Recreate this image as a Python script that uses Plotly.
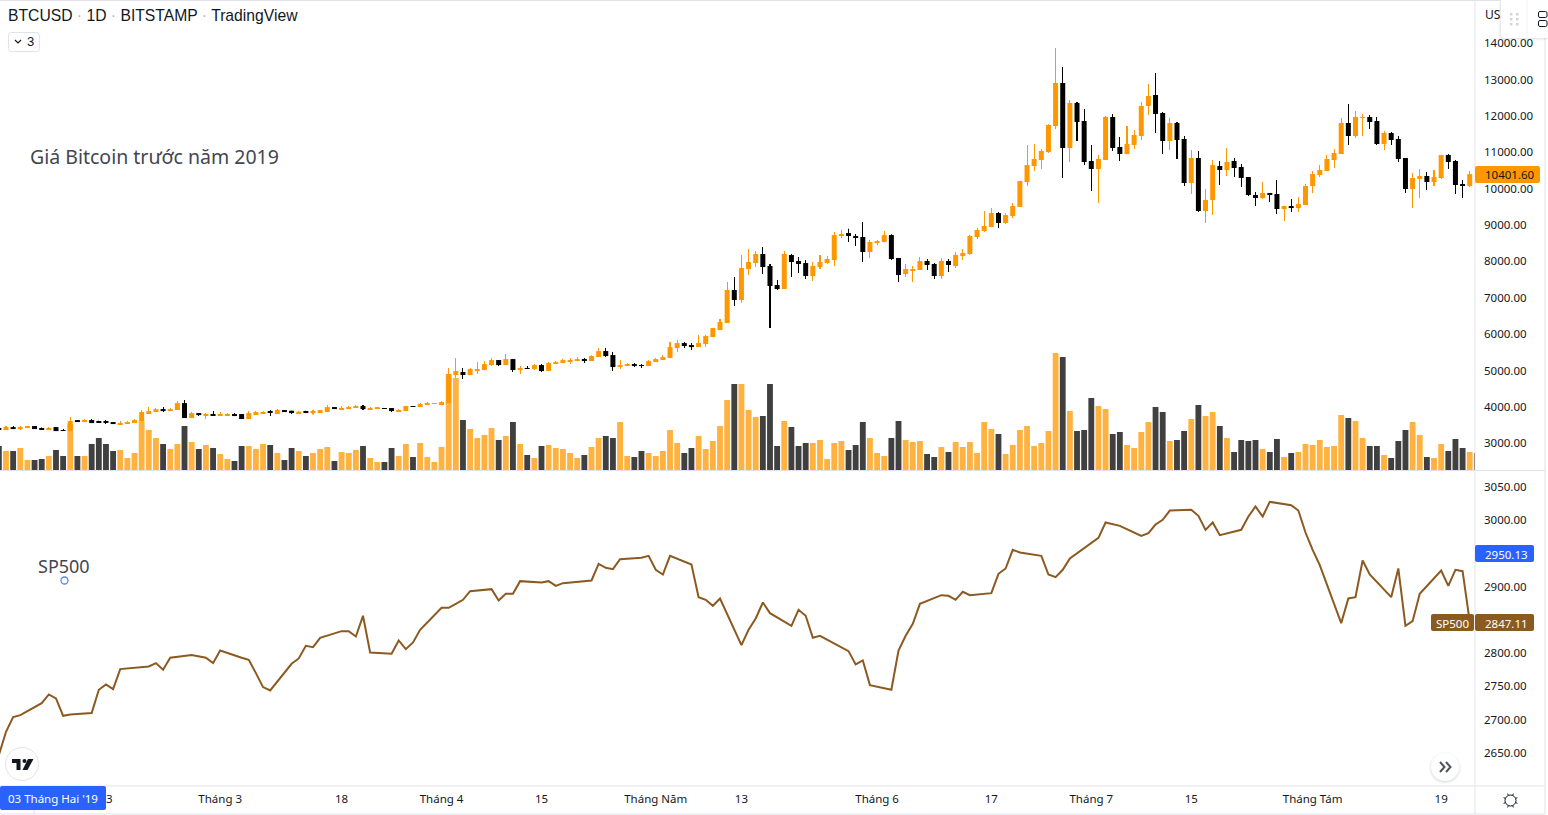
import math
import pandas as pd
import plotly.graph_objects as go

W, H = 1548, 815
PLOT_R = 1475
PANE_SPLIT = 470
PANE_BOTTOM = 786

UP = "#ff9800"
DOWN = "#000000"
UP_VOL = "rgba(255,152,0,0.75)"
DOWN_VOL = "rgba(0,0,0,0.75)"
SP_COLOR = "#8b5a20"
BORDER = "#e0e3eb"
TEXT = "#131722"
FONT = "Noto Sans"
DAY_MS = 86400000

# giá BTCUSD theo ngày
opens = [
    3419, 3364, 3446, 3391, 3419, 3474, 3410, 3391, 3446, 3364,
    3336, 3639, 3584, 3639, 3593, 3593, 3584, 3529, 3529, 3556,
    3611, 3832, 3859, 3941, 3886, 3914, 4106, 3694, 3831, 3776,
    3804, 3776, 3776, 3804, 3804, 3666, 3776, 3831, 3868, 3804,
    3914, 3896, 3831, 3868, 3841, 3831, 3859, 3996, 3941, 3941,
    3969, 4024, 3941, 3941, 3969, 3969, 3886, 3886, 4024, 3996,
    4051, 4088, 4051, 4106, 4877, 4959, 4877, 5014, 5014, 5151,
    5289, 5151, 5316, 5014, 5069, 5041, 5151, 4986, 5179, 5206,
    5261, 5261, 5316, 5261, 5371, 5536, 5426, 5096, 5124, 5179,
    5151, 5124, 5234, 5289, 5344, 5619, 5756, 5701, 5646, 5729,
    5921, 6114, 6306, 7214, 6939, 7791, 7956, 8204, 7874, 7351,
    7241, 8176, 8011, 7956, 7599, 7846, 7956, 8039, 8699, 8781,
    8699, 8672, 8259, 8506, 8534, 8726, 8094, 7654, 7764, 7764,
    8011, 7929, 7599, 8012, 7874, 8149, 8204, 8671, 8836, 8946,
    9331, 9056, 9249, 9496, 10184, 10624, 10789, 11009, 11724, 12906,
    11119, 12356, 11861, 10761, 10541, 10789, 11971, 11146, 10954, 11201,
    11449, 12274, 12576, 12081, 11311, 11806, 11366, 10156, 10844, 9386,
    9689, 10624, 10514, 10761, 10596, 10321, 9826, 9744, 9881, 9854,
    9441, 9524, 9469, 9551, 10074, 10376, 10486, 10789, 10954, 11806,
    11449, 11944, 11971, 11861, 11229, 11531, 11366, 10844, 9991, 10266,
    10349, 10184, 10294, 10926, 10761, 10129, 10074,
]
highs = [
    3419, 3474, 3474, 3474, 3474, 3474, 3437, 3446, 3446, 3391,
    3721, 3639, 3666, 3666, 3620, 3639, 3584, 3611, 3611, 3666,
    3914, 3996, 3969, 3996, 3969, 4161, 4189, 3859, 3831, 3831,
    3886, 3859, 3831, 3831, 3804, 3886, 3886, 3886, 3914, 3941,
    3914, 3896, 3896, 3896, 3914, 3914, 4051, 3996, 4024, 4024,
    4051, 4051, 3996, 3996, 3969, 3969, 3941, 4024, 4024, 4106,
    4134, 4106, 4161, 5069, 5344, 5069, 5069, 5234, 5261, 5344,
    5289, 5454, 5316, 5124, 5124, 5179, 5179, 5234, 5261, 5316,
    5344, 5371, 5344, 5426, 5619, 5619, 5509, 5289, 5206, 5206,
    5179, 5289, 5344, 5426, 5784, 5839, 5784, 5756, 5976, 5976,
    6169, 6416, 7434, 7571, 8176, 8341, 8286, 8396, 7929, 7489,
    8286, 8204, 8121, 8039, 7984, 8176, 8149, 8809, 8864, 8900,
    8754, 9084, 8589, 8589, 8836, 8745, 8094, 7929, 7874, 8121,
    8066, 7956, 8094, 8067, 8259, 8342, 8726, 8919, 9386, 9469,
    9359, 9331, 9606, 10211, 11201, 11229, 11091, 11779, 13869, 13346,
    12439, 12384, 12191, 11201, 10926, 11999, 12054, 11421, 11724, 11614,
    12384, 12879, 13181, 12109, 11944, 11834, 11449, 11064, 11036, 9991,
    10789, 10761, 11119, 10844, 10679, 10321, 9909, 10184, 9881, 10239,
    9524, 9716, 9771, 10129, 10486, 10651, 10926, 11091, 11944, 12329,
    12136, 12054, 12026, 11971, 11586, 11559, 11449, 10844, 10431, 10541,
    10459, 10514, 10926, 10954, 10789, 10239, 10486,
]
lows = [
    3364, 3364, 3391, 3364, 3419, 3391, 3391, 3391, 3336, 3336,
    3336, 3584, 3584, 3556, 3556, 3529, 3529, 3529, 3529, 3556,
    3611, 3832, 3859, 3859, 3886, 3914, 3694, 3694, 3749, 3666,
    3749, 3776, 3749, 3749, 3666, 3666, 3776, 3831, 3749, 3804,
    3859, 3804, 3804, 3831, 3795, 3831, 3859, 3941, 3941, 3941,
    3969, 3914, 3941, 3941, 3950, 3859, 3886, 3886, 4005, 3996,
    4051, 4088, 4051, 4106, 4794, 4766, 4877, 4904, 5014, 5124,
    5124, 5151, 4959, 4904, 5041, 5014, 4959, 4986, 5179, 5206,
    5179, 5261, 5206, 5261, 5371, 5371, 4986, 5041, 5124, 5096,
    5069, 5124, 5234, 5289, 5344, 5509, 5619, 5564, 5646, 5646,
    5921, 6114, 6306, 6774, 6856, 7626, 7846, 7654, 6169, 7214,
    7241, 7571, 7681, 7516, 7461, 7791, 7929, 7874, 8644, 8534,
    8424, 7984, 8094, 8451, 8534, 8039, 7434, 7571, 7434, 7764,
    7764, 7516, 7517, 7709, 7819, 8039, 8176, 8616, 8809, 8946,
    8919, 9029, 9194, 9496, 10074, 10486, 10541, 10981, 11641, 10294,
    10734, 11311, 10651, 9936, 9606, 10789, 11036, 10761, 10954, 11091,
    11339, 12026, 11531, 10954, 11064, 10816, 10074, 9854, 9359, 9056,
    9276, 10101, 10349, 10321, 10046, 9799, 9524, 9716, 9634, 9304,
    9111, 9359, 9359, 9551, 9881, 10321, 10486, 10569, 10954, 11201,
    11394, 11449, 11641, 11201, 11064, 11201, 10734, 9881, 9469, 9744,
    9964, 10074, 10266, 10541, 9854, 9744, 10046,
]
closes = [
    3364, 3446, 3391, 3446, 3474, 3391, 3391, 3419, 3336, 3345,
    3611, 3584, 3639, 3556, 3575, 3575, 3529, 3556, 3584, 3639,
    3859, 3886, 3941, 3886, 3941, 4106, 3694, 3831, 3776, 3804,
    3776, 3804, 3804, 3749, 3666, 3831, 3859, 3859, 3850, 3914,
    3859, 3831, 3868, 3850, 3868, 3914, 3996, 3941, 3969, 3996,
    4024, 3941, 3969, 3996, 3950, 3886, 3914, 4024, 4005, 4079,
    4106, 4106, 4134, 4904, 4986, 4877, 5041, 5041, 5179, 5289,
    5151, 5316, 5014, 5069, 5051, 5151, 4986, 5206, 5234, 5289,
    5289, 5316, 5280, 5399, 5536, 5399, 5096, 5151, 5179, 5124,
    5133, 5261, 5316, 5371, 5646, 5756, 5674, 5646, 5756, 5949,
    6169, 6334, 7214, 6939, 7819, 7984, 8204, 7846, 7324, 7241,
    8204, 7984, 7929, 7599, 7874, 7984, 8066, 8726, 8754, 8699,
    8644, 8259, 8534, 8561, 8726, 8066, 7626, 7791, 7791, 8011,
    7901, 7599, 8012, 7902, 8177, 8232, 8699, 8864, 8974, 9331,
    9056, 9276, 9524, 10211, 10651, 10816, 11036, 11751, 12906, 11119,
    12356, 11834, 10734, 10541, 10816, 11971, 11119, 10954, 11229, 11476,
    12274, 12549, 12054, 11311, 11806, 11339, 10156, 10844, 9386, 9689,
    10651, 10514, 10734, 10569, 10294, 9826, 9744, 9881, 9826, 9441,
    9524, 9469, 9579, 10074, 10404, 10514, 10816, 10981, 11806, 11449,
    11971, 11971, 11834, 11229, 11531, 11339, 10816, 9991, 10294, 10349,
    10184, 10321, 10926, 10734, 10101, 10074, 10401.6,
]
# khối lượng, đơn vị trăm BTC (phiên cuối chỉ còn thấy mép cột)
volumes = [
    96, 76, 76, 88, 40, 40, 44, 56, 80, 56,
    184, 56, 56, 104, 128, 104, 76, 80, 48, 68,
    196, 160, 128, 104, 84, 104, 176, 112, 84, 100,
    88, 64, 44, 36, 96, 96, 84, 104, 100, 68,
    40, 88, 76, 56, 68, 84, 92, 36, 72, 68,
    80, 96, 48, 32, 32, 88, 56, 104, 52, 108,
    52, 32, 92, 384, 368, 200, 164, 128, 140, 168,
    120, 136, 192, 104, 60, 48, 96, 100, 88, 84,
    68, 48, 60, 92, 128, 136, 128, 192, 56, 52,
    76, 68, 56, 76, 160, 108, 68, 88, 136, 84,
    116, 176, 280, 344, 344, 240, 212, 216, 344, 96,
    196, 172, 96, 108, 108, 120, 44, 108, 116, 80,
    100, 192, 128, 68, 56, 128, 196, 120, 112, 116,
    64, 52, 92, 72, 112, 92, 112, 68, 192, 164,
    144, 64, 100, 160, 176, 96, 108, 156, 468, 452,
    236, 156, 160, 288, 256, 244, 144, 152, 100, 88,
    152, 192, 252, 232, 116, 120, 156, 204, 260, 216,
    232, 176, 128, 72, 120, 116, 120, 84, 72, 124,
    52, 68, 72, 104, 100, 120, 92, 96, 220, 208,
    196, 128, 96, 96, 60, 48, 116, 160, 192, 140,
    52, 48, 104, 76, 124, 88, 72, 68,
]
# SP500, mỗi hàng là một tuần giao dịch
sp500 = [
    2647, 2682, 2704, 2707,
    2725, 2738, 2732, 2706, 2708,
    2710, 2745, 2753, 2746, 2776,
    2780, 2785, 2775, 2793,
    2797, 2795, 2793, 2785, 2804,
    2793, 2790, 2770, 2749, 2744,
    2784, 2792, 2811, 2809, 2823,
    2833, 2833, 2825, 2856, 2801,
    2799, 2819, 2806, 2816, 2835,
    2868, 2868, 2874, 2880, 2893,
    2896, 2879, 2889, 2889, 2908,
    2906, 2908, 2901, 2905,
    2909, 2934, 2928, 2926, 2941,
    2943, 2946, 2925, 2918, 2946,
    2933, 2884, 2880, 2871, 2882,
    2812, 2835, 2852, 2876, 2860,
    2841, 2865, 2856, 2823, 2826,
    2803, 2783, 2789, 2752,
    2745, 2804, 2826, 2844, 2874,
    2887, 2886, 2880, 2892, 2887,
    2890, 2919, 2927, 2955, 2951,
    2946, 2918, 2914, 2925, 2942,
    2966, 2973, 2996, 2991,
    2976, 2980, 2993, 3000, 3014,
    3015, 3006, 2985, 2996, 2977,
    2985, 3005, 3020, 3005, 3027,
    3022, 3014, 2981, 2955, 2932,
    2845, 2882, 2884, 2939, 2918,
    2884, 2927, 2841, 2848, 2889,
    2924, 2901, 2925, 2923, 2847.11,
]
us_holidays = ["2019-02-18", "2019-04-19", "2019-05-27", "2019-07-04"]

price_ticks = [3000, 4000, 5000, 6000, 7000, 8000, 9000, 10000, 11000, 12000, 13000, 14000]
sp_ticks = [2650, 2700, 2750, 2800, 2900, 3000, 3050]
date_ticks = ["2019-02-13", "2019-03-01", "2019-03-18", "2019-04-01", "2019-04-15", "2019-05-01",
              "2019-05-13", "2019-06-01", "2019-06-17", "2019-07-01", "2019-07-15", "2019-08-01", "2019-08-19"]
date_labels = ["13", "Tháng 3", "18", "Tháng 4", "15", "Tháng Năm", "13", "Tháng 6", "17", "Tháng 7", "15", "Tháng Tám", "19"]

days = pd.date_range("2019-01-29", periods=len(volumes), freq="D")
candle_days = days[:len(opens)]
sp_days = pd.bdate_range("2019-01-29", "2019-08-23").drop(pd.to_datetime(us_holidays))
vol_colors = [UP_VOL if c >= o else DOWN_VOL for o, c in zip(opens, closes)] + [DOWN_VOL]
candle_colors = [UP if c >= o else DOWN for o, c in zip(opens, closes)]


# toạ độ pixel của màn hình -> toạ độ paper
def px(x):
    return x / W


def py(y):
    return 1 - y / H


shapes = []
annotations = []


def rect(x0, y0, x1, y1, fill, line=None, r=0, lw=1):
    if r:
        path = (f"M {px(x0 + r)} {py(y0)} L {px(x1 - r)} {py(y0)} Q {px(x1)} {py(y0)} {px(x1)} {py(y0 + r)} "
                f"L {px(x1)} {py(y1 - r)} Q {px(x1)} {py(y1)} {px(x1 - r)} {py(y1)} L {px(x0 + r)} {py(y1)} "
                f"Q {px(x0)} {py(y1)} {px(x0)} {py(y1 - r)} L {px(x0)} {py(y0 + r)} Q {px(x0)} {py(y0)} {px(x0 + r)} {py(y0)} Z")
        shapes.append(dict(type="path", path=path, xref="paper", yref="paper", fillcolor=fill,
                           line=dict(color=line or fill, width=lw if line else 0), layer="above"))
    else:
        shapes.append(dict(type="rect", x0=px(x0), x1=px(x1), y0=py(y0), y1=py(y1), xref="paper", yref="paper",
                           fillcolor=fill, line=dict(color=line or fill, width=lw if line else 0), layer="above"))


def hline(x0, x1, y, color=BORDER, lw=1):
    shapes.append(dict(type="line", x0=px(x0), x1=px(x1), y0=py(y), y1=py(y), xref="paper", yref="paper",
                       line=dict(color=color, width=lw), layer="above"))


def vline(x, y0, y1, color=BORDER, lw=1):
    shapes.append(dict(type="line", x0=px(x), x1=px(x), y0=py(y0), y1=py(y1), xref="paper", yref="paper",
                       line=dict(color=color, width=lw), layer="above"))


def polyline(points, color, lw=1.5, fill=None):
    path = "M " + " L ".join(f"{px(x)} {py(y)}" for x, y in points)
    if fill:
        path += " Z"
    shapes.append(dict(type="path", path=path, xref="paper", yref="paper", fillcolor=fill or "rgba(0,0,0,0)",
                       line=dict(color=color, width=lw), layer="above"))


def circle(cx, cy, r, fill, line=None, lw=1):
    shapes.append(dict(type="circle", x0=px(cx - r), x1=px(cx + r), y0=py(cy - r), y1=py(cy + r),
                       xref="paper", yref="paper", fillcolor=fill,
                       line=dict(color=line or fill, width=lw if line else 0), layer="above"))


def label(x, y, text, size=12, color=TEXT, anchor="left", family=FONT):
    annotations.append(dict(x=px(x), y=py(y), xref="paper", yref="paper", text=text, showarrow=False,
                            xanchor=anchor, yanchor="middle", font=dict(size=size, color=color, family=family),
                            borderpad=0, borderwidth=0))


def tag(x0, x1, y0, y1, fill, text, color, left=None):
    rect(x0, y0, x1, y1, fill, r=2)
    if left is None:
        label((x0 + x1) / 2, (y0 + y1) / 2 + 0.5, text, size=11.5, color=color, anchor="center")
    else:
        label(left, (y0 + y1) / 2 + 0.5, text, size=11.5, color=color)


fig = go.Figure()

# volume nằm dưới nến
fig.add_trace(go.Bar(x=days, y=volumes, xaxis="x", yaxis="y", marker=dict(color=vol_colors, line=dict(width=0)),
                     width=DAY_MS * 0.82))
# nến vẽ bằng cột để cạnh sắc như trong hình: bấc rất mảnh, thân rộng
fig.add_trace(go.Bar(x=candle_days, y=[h - l for h, l in zip(highs, lows)], base=lows, xaxis="x", yaxis="y3",
                     marker=dict(color=candle_colors, line=dict(width=0)), width=DAY_MS * 0.01))
fig.add_trace(go.Bar(x=candle_days, y=[abs(c - o) for o, c in zip(opens, closes)],
                     base=[min(o, c) for o, c in zip(opens, closes)], xaxis="x", yaxis="y3",
                     marker=dict(color=candle_colors, line=dict(width=0)), width=DAY_MS * 0.7))
fig.add_trace(go.Scatter(x=sp_days, y=sp500, xaxis="x2", yaxis="y2", mode="lines",
                         line=dict(color=SP_COLOR, width=2)))

# khung
hline(0, 1545, 0.5)
hline(0, 1545, PANE_SPLIT + 0.5)
hline(0, 1545, PANE_BOTTOM)
hline(0, 1545, 814)
vline(PLOT_R, 0, 814)
vline(1545, 0, 814)
vline(34, 810, 814)

# nhãn giá
tag(1475, 1540, 166, 183, UP, "10401.60", TEXT, left=1485)
tag(1475, 1534, 545, 562, "#2962ff", "2950.13", "#ffffff", left=1485)
tag(1431, 1474, 614, 631, SP_COLOR, "SP500", "#ffffff")
tag(1475, 1534, 614, 631, SP_COLOR, "2847.11", "#ffffff", left=1485)
tag(0, 106, 786, 810, "#2962ff", "03 Tháng Hai '19", "#ffffff")

# tiêu đề
dot = '<span style="color:#b2b5be"> · </span>'
label(8, 16, f"BTCUSD{dot}1D{dot}BITSTAMP{dot}TradingView", size=15.7, family="Liberation Sans")
rect(8.5, 32.5, 39.5, 51.5, "#ffffff", line=BORDER, r=3)
polyline([(15, 40), (18, 43), (21, 40)], TEXT, lw=1.2)
label(31, 41.5, "3", size=13, anchor="center", family="Liberation Sans")

# chú thích vẽ trên biểu đồ
label(30, 156, "Giá Bitcoin trước năm 2019", size=19.5, color="#434651")
label(38, 566, "SP500", size=18, color="#434651")
circle(64.5, 580.5, 3.5, "#ffffff", line="#5b84f5", lw=1.3)

# thanh công cụ góc trên
label(1485, 14, "US", size=12)
for i, a in enumerate([0.02, 0.03, 0.04]):
    rect(1501 - 3 + i, 0, 1549, 41 - i, f"rgba(19,23,34,{a})", r=5)
rect(1501, -3, 1549, 38, "#ffffff", r=4)
vline(1527, 0, 38, color="#f0f3fa")
for dx in (1510, 1516):
    for dy in (13, 18, 23):
        rect(dx, dy, dx + 2.5, dy + 2.5, "#d1d4dc")
rect(1538.5, 11.5, 1547, 17.5, "#ffffff", line=TEXT, r=1.5)
rect(1538.5, 20.5, 1547, 26.5, "#ffffff", line=TEXT, r=1.5)

# nút logo TV
circle(22, 764, 16.5, "#ffffff", line=BORDER, lw=1)
polyline([(12, 759), (20.5, 759), (20.5, 770), (16.5, 770), (16.5, 763), (12, 763)], "#131722", lw=0, fill="#131722")
circle(24.5, 761, 2, "#131722")
polyline([(28, 759), (33.5, 759), (27.5, 770), (22.5, 770)], "#131722", lw=0, fill="#131722")

# nút cuộn >>
for i, a in enumerate([0.03, 0.04, 0.05]):
    circle(1445, 768, 16 - i, f"rgba(19,23,34,{a})")
circle(1445, 767, 14, "#ffffff")
polyline([(1440, 762), (1444.5, 767), (1440, 772)], "#50535e", lw=2)
polyline([(1446, 762), (1450.5, 767), (1446, 772)], "#50535e", lw=2)

# biểu tượng bánh răng
circle(1510.5, 800.5, 5.5, "#ffffff", line=TEXT, lw=1)
for k in range(8):
    a = k * math.pi / 4 + math.pi / 8
    polyline([(1510.5 + 5.5 * math.cos(a), 800.5 + 5.5 * math.sin(a)),
              (1510.5 + 7.5 * math.cos(a), 800.5 + 7.5 * math.sin(a))], TEXT, lw=1)

tick_font = dict(family=FONT, size=11.5, color=TEXT)
x_domain = [0, PLOT_R / W]
x_range = ["2019-01-29 03:50", "2019-08-23 17:45"]

fig.update_layout(
    width=W,
    height=H,
    margin=dict(l=0, r=0, t=0, b=0),
    paper_bgcolor="#ffffff",
    plot_bgcolor="#ffffff",
    showlegend=False,
    hovermode=False,
    dragmode=False,
    barmode="overlay",
    xaxis=dict(domain=x_domain, range=x_range, type="date", anchor="y", showgrid=False, zeroline=False,
               showticklabels=False, ticks=""),
    xaxis2=dict(domain=x_domain, matches="x", type="date", anchor="y2", showgrid=False, zeroline=False,
                tickmode="array", tickvals=date_ticks, ticktext=date_labels, ticks="", tickfont=tick_font,
                ticklabelstandoff=4),
    yaxis=dict(domain=[py(PANE_SPLIT), 1], range=[0, 1880], anchor="x", visible=False, fixedrange=True),
    yaxis3=dict(domain=[py(PANE_SPLIT), 1], range=[2266, 15188], anchor="x", overlaying="y", side="right",
                showgrid=False, zeroline=False, tickmode="array", tickvals=price_ticks, tickformat=".2f",
                ticks="", tickfont=tick_font, ticklabelstandoff=8),
    yaxis2=dict(domain=[py(PANE_BOTTOM), py(PANE_SPLIT + 1)], range=[2600.6, 3073.3], anchor="x2", side="right",
                showgrid=False, zeroline=False, tickmode="array", tickvals=sp_ticks, tickformat=".2f",
                ticks="", tickfont=tick_font, ticklabelstandoff=8),
    shapes=shapes,
    annotations=annotations,
)

fig.write_html("out.html", config={"displayModeBar": False},
               post_script="document.body.style.margin='0';document.body.style.overflow='hidden';")
